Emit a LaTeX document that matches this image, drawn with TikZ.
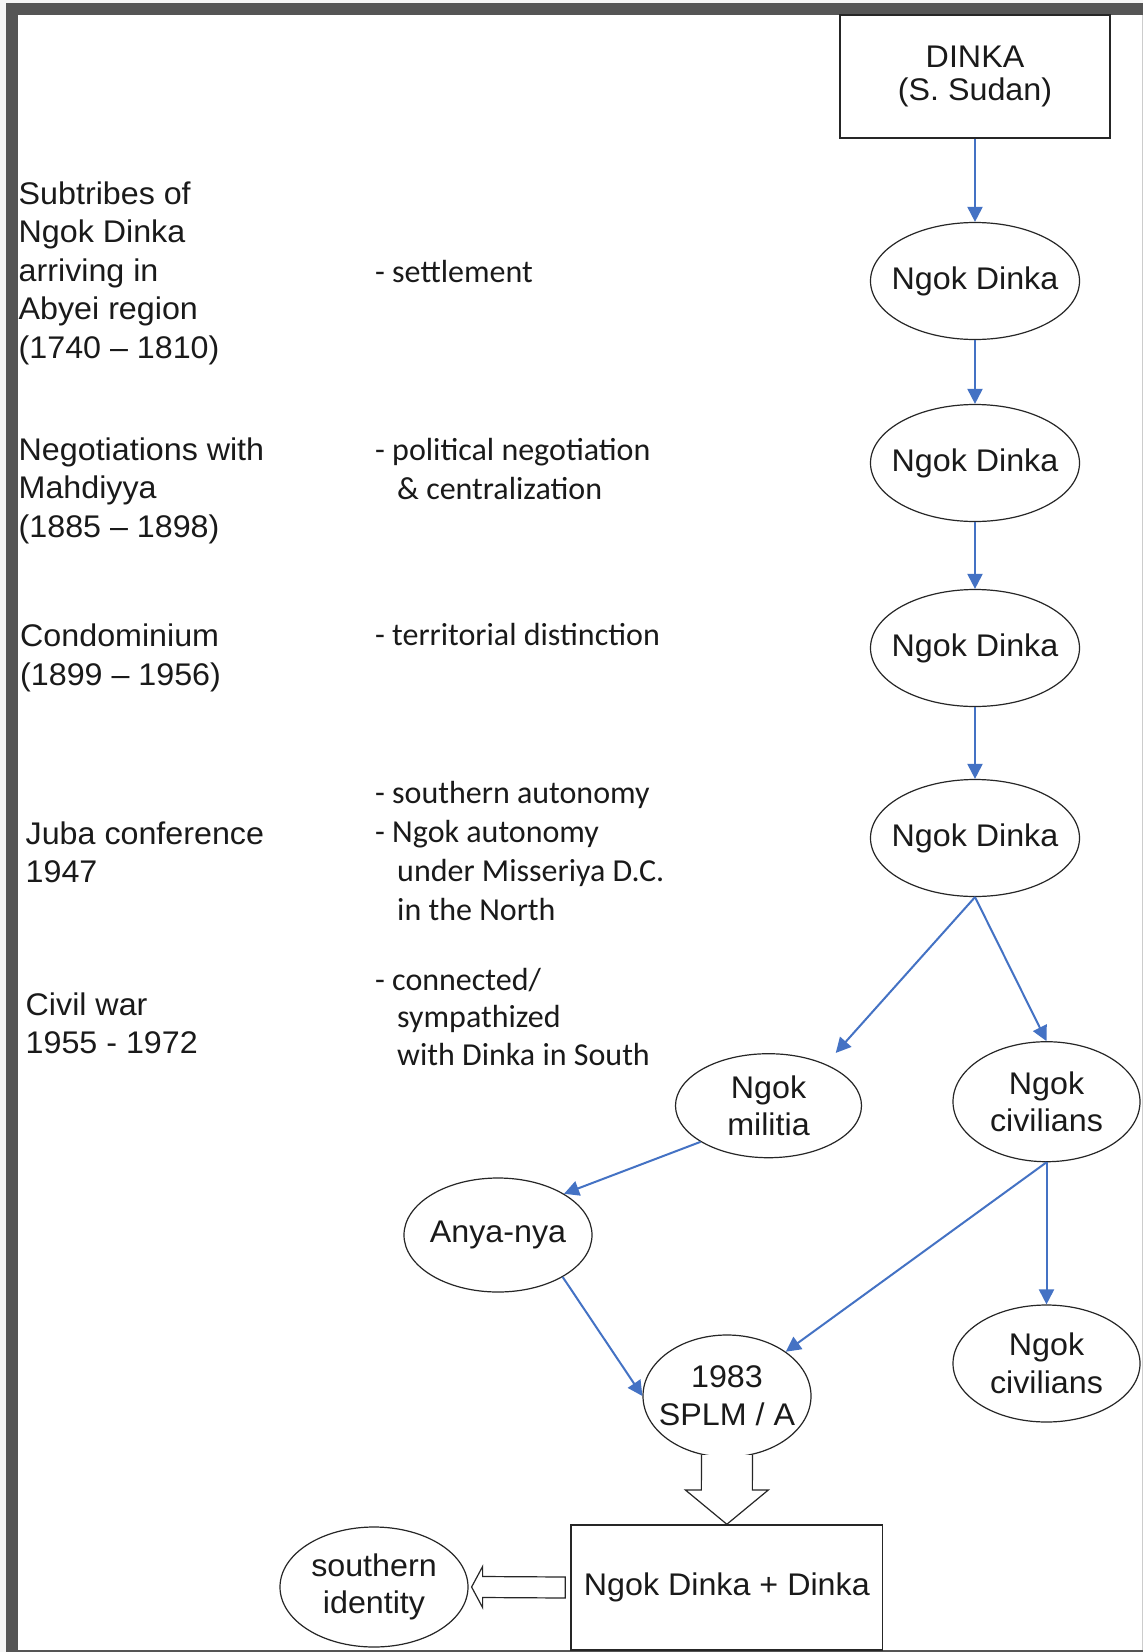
\documentclass[tikz,border=0pt]{standalone}
\usepackage{fontspec}
\setmainfont[FakeStretch=1.03]{Liberation Sans}
\newfontfamily\notefont{Carlito}
\usetikzlibrary{shapes.geometric,calc,arrows.meta}
\definecolor{linkblue}{RGB}{68,114,196}
\definecolor{framegray}{RGB}{85,85,85}
\definecolor{inkgray}{RGB}{26,26,26}
% zero-width centred line, so the text never enlarges an ellipse
\newcommand{\zw}[1]{\makebox[0pt]{#1}}
% lines stacked at a fixed baseline distance; reference point = first baseline
\newcommand{\linestack}[2]{\vtop{\baselineskip=#1\lineskiplimit=-100pt\lineskip=0pt #2}}
\newcommand{\ind}{\hspace*{22pt}}

\begin{document}
\begin{tikzpicture}[x=1pt,y=-1pt,
  every node/.style={text=inkgray},
  oval/.style={ellipse, draw=black!85, line width=1.2pt, inner sep=0pt, align=center,
    font=\fontsize{31.3}{37.7}\selectfont},
  flowbox/.style={rectangle, draw=black!85, line width=1.5pt, inner sep=0pt, align=center,
    font=\fontsize{31.3}{33}\selectfont},
  link/.style={-{Triangle[length=15pt,width=15pt]}, draw=linkblue, line width=2pt},
  hollow/.style={draw=black!85, line width=1.2pt, fill=white, line join=miter},
  period/.style={anchor=base west, inner sep=0pt, font=\fontsize{31.3}{38.6}\selectfont},
  note/.style={anchor=base west, inner sep=0pt, font=\notefont\fontsize{32}{38.6}\selectfont}]

\useasboundingbox (0,0) rectangle (1143,1652);

% page frame: light margin, white sheet, heavy left/top edges, thin right/bottom edges
\fill[gray!8] (0,0) rectangle (1143,1652);
\fill[white] (18,15) rectangle (1142,1650);
\fill[framegray] (6,3) rectangle (18,1652);
\fill[framegray] (6,3) rectangle (1143,15);
\fill[framegray] (6,1649.5) rectangle (1143,1652);
\draw[gray!40, line width=1pt] (1142.5,15) -- (1142.5,1650);

% main chain
\node[flowbox, minimum width=270pt, minimum height=123pt] (dinka) at (975,76.5) {DINKA\\(S. Sudan)};
\node[oval, minimum width=209pt, minimum height=117pt] (e1) at (975,281) {\zw{Ngok Dinka}};
\node[oval, minimum width=209pt, minimum height=117pt] (e2) at (975,463) {\zw{Ngok Dinka}};
\node[oval, minimum width=209pt, minimum height=117pt] (e3) at (975,648) {\zw{Ngok Dinka}};
\node[oval, minimum width=209pt, minimum height=117pt] (e4) at (975,838) {\zw{Ngok Dinka}};

% branches
\node[oval, minimum width=186pt, minimum height=104pt] (mil) at (768.5,1105.7) {\zw{Ngok}\\\zw{militia}};
\node[oval, minimum width=187pt, minimum height=120pt] (civ1) at (1046.5,1101.7) {\zw{Ngok}\\\zw{civilians}};
\node[oval, minimum width=187pt, minimum height=117pt] (civ2) at (1046.5,1363.5) {\zw{Ngok}\\\zw{civilians}};
\node[oval, minimum width=188pt, minimum height=114pt] (anya) at (498,1235) {\zw{Anya-nya}};
\node[oval, minimum width=168pt, minimum height=122pt] (splm) at (727,1396) {\zw{1983}\\\zw{SPLM / A}};

% outcome
\node[flowbox, minimum width=311.7pt, minimum height=125pt] (bot) at (726.85,1587.5) {Ngok Dinka + Dinka};
\node[oval, minimum width=188pt, minimum height=120pt] (sid) at (374,1587) {\zw{southern}\\\zw{identity}};

% connectors
\draw[link] (dinka.south) -- (e1.north);
\draw[link] (e1) -- (e2);
\draw[link] (e2) -- (e3);
\draw[link] (e3) -- (e4);
\draw[link, shorten >=15pt] (e4.south) -- (mil.36);
\draw[link] (e4.south) -- (civ1.north);
\draw[link] (mil.-152) -- (anya.32);
\draw[link] (anya.-33) -- (splm.west);
\draw[link] (civ1.south) -- (splm.37);
\draw[link] (civ1.south) -- (civ2.north);

% hollow block arrows
\draw[hollow] ($(splm.south)+(-25.5,-2.5)$) -- ($(bot.north)+(-25.5,-34.3)$)
  -- ($(bot.north)+(-41.5,-34.3)$) -- (bot.north) -- ($(bot.north)+(41.5,-34.3)$)
  -- ($(bot.north)+(25.5,-34.3)$) -- ($(splm.south)+(25.5,-2.5)$);
\draw[hollow] ($(sid.east)+(3,0)$) -- ++(11,-20.5) -- ++(0,10)
  -- ($(bot.west)+(-5,-10.5)$) -- ($(bot.west)+(-5,10.5)$)
  -- ($(sid.east)+(14,10.5)$) -- ++(0,10) -- cycle;

% periods (left column)
\node[period] (p1) at (18.5,204) {\linestack{38.6pt}{\hbox{Subtribes of}\hbox{Ngok Dinka}\hbox{arriving in}\hbox{Abyei region}\hbox{(1740 – 1810)}}};
\node[period] (p2) at (18.5,460.5) {\linestack{38.3pt}{\hbox{Negotiations with}\hbox{Mahdiyya}\hbox{(1885 – 1898)}}};
\node[period] (p3) at (20,646.7) {\linestack{38.4pt}{\hbox{Condominium}\hbox{(1899 – 1956)}}};
\node[period] (p4) at (25.5,844) {\linestack{38.7pt}{\hbox{Juba conference}\hbox{1947}}};
\node[period] (p5) at (25.5,1015) {\linestack{38.3pt}{\hbox{Civil war}\hbox{1955 - 1972}}};

% notes (middle column)
\node[note] (n1) at (375,282.3) {- settlement};
\node[note] (n2) at (375,460.7) {\linestack{38.3pt}{\hbox{- political negotiation}\hbox{\ind\& centralization}}};
\node[note] (n3) at (375,645) {- territorial distinction};
\node[note] (n4) at (375,803.3) {\linestack{38.9pt}{\hbox{- southern autonomy}\hbox{- Ngok autonomy}\hbox{\ind under Misseriya D.C.}\hbox{\ind in the North}}};
\node[note] (n5) at (375,990) {\linestack{37.5pt}{\hbox{- connected/}\hbox{\ind sympathized}\hbox{\ind with Dinka in South}}};
\end{tikzpicture}
\end{document}
